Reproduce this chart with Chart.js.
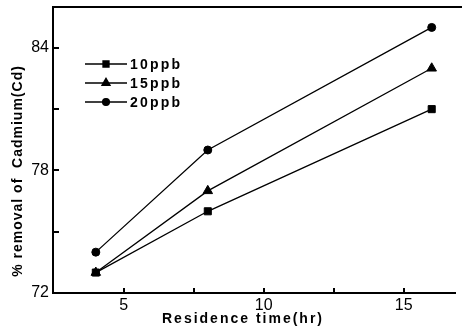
<!DOCTYPE html>
<html>
<head>
<meta charset="utf-8">
<script src="https://cdn.jsdelivr.net/npm/chart.js@4.4.1/dist/chart.umd.min.js"></script>
<style>
  html, body { margin: 0; padding: 0; background: #fff; overflow: hidden; }
  canvas { display: block; }
</style>
</head>
<body>
<canvas id="chart" width="462" height="326"></canvas>
<script>
// Residence time (hr)
const times = [4, 8, 16];
// % removal of Cd at each initial concentration
const removal10 = [73, 76, 81];
const removal15 = [73, 77, 83];
const removal20 = [74, 79, 85];
const seriesNames = ['10ppb', '15ppb', '20ppb'];
const xTicks = [5, 7.5, 10, 12.5, 15];
const xTickLabels = [5, 10, 15];
const yTicks = [72, 75, 78, 81, 84];
const yTickLabels = [72, 78, 84];

const xTitle = 'Residence time(hr)';
const yTitle = '% removal of  Cadmium(Cd)';

Chart.defaults.font.family = '"Liberation Sans", Arial, sans-serif';
Chart.defaults.color = '#000';

function toPoints(ys) {
    return times.map((t, i) => ({ x: t, y: ys[i] }));
}

const styles = [
    { pointStyle: 'rect', radius: 5 },
    { pointStyle: 'triangle', radius: 5.5 },
    { pointStyle: 'circle', radius: 4 }
];

const datasets = [removal10, removal15, removal20].map((vals, i) => ({
    label: seriesNames[i],
    data: toPoints(vals),
    borderColor: '#000',
    backgroundColor: '#000',
    borderWidth: 1.3,
    pointStyle: styles[i].pointStyle,
    pointRadius: styles[i].radius,
    pointBorderWidth: 1,
    pointBackgroundColor: '#000',
    tension: 0
}));

// inner tick marks, top frame line, axis titles and the legend box
const extras = {
    id: 'extras',
    afterDraw(chart) {
        const ctx = chart.ctx;
        const area = chart.chartArea;
        const xs = chart.scales.x;
        const ys = chart.scales.y;
        ctx.save();
        ctx.strokeStyle = '#000';
        ctx.lineWidth = 2;
        ctx.beginPath();
        ctx.moveTo(area.left - 1, area.top);
        ctx.lineTo(chart.width, area.top);
        xs.ticks.forEach(t => {
            const px = Math.round(xs.getPixelForValue(t.value));
            ctx.moveTo(px, area.bottom);
            ctx.lineTo(px, area.bottom - 5);
        });
        ys.ticks.forEach(t => {
            const py = Math.round(ys.getPixelForValue(t.value));
            ctx.moveTo(area.left, py);
            ctx.lineTo(area.left + 6, py);
        });
        ctx.stroke();

        ctx.fillStyle = '#000';
        ctx.font = 'bold 14px "Liberation Sans", Arial, sans-serif';
        ctx.textBaseline = 'middle';
        ctx.textAlign = 'center';
        ctx.letterSpacing = '2px';
        ctx.fillText(xTitle, 243, 319);

        ctx.save();
        ctx.translate(18, 171);
        ctx.rotate(-Math.PI / 2);
        ctx.letterSpacing = '1px';
        ctx.fillText(yTitle, 0, 0);
        ctx.restore();

        // legend
        ctx.font = 'bold 14px "Liberation Sans", Arial, sans-serif';
        ctx.textAlign = 'left';
        ctx.letterSpacing = '2.2px';
        const rowY = [64, 83, 102];
        chart.data.datasets.forEach((ds, i) => {
            const y = rowY[i];
            ctx.lineWidth = 1.3;
            ctx.beginPath();
            ctx.moveTo(85, y);
            ctx.lineTo(127, y);
            ctx.stroke();
            Chart.helpers.drawPoint(ctx, {
                pointStyle: ds.pointStyle,
                radius: ds.pointRadius * 0.85,
                rotation: 0,
                borderWidth: 1
            }, 106, y);
            ctx.fillText(ds.label, 130, y + 1);
        });
        ctx.restore();
    }
};

function noPad(scale) {
    scale.paddingTop = 0;
    scale.paddingBottom = 0;
    scale.paddingLeft = 0;
    scale.paddingRight = 0;
}

new Chart(document.getElementById('chart'), {
    type: 'line',
    data: { datasets },
    options: {
        responsive: false,
        animation: false,
        layout: { padding: { top: 7, right: 0, left: 0, bottom: 0 } },
        plugins: {
            legend: { display: false },
            tooltip: { enabled: false }
        },
        scales: {
            x: {
                type: 'linear',
                min: 2.47,
                max: 16.85,
                afterBuildTicks(scale) { scale.ticks = xTicks.map(v => ({ value: v })); },
                afterFit(scale) { scale.height = 33; noPad(scale); },
                border: { color: '#000', width: 2 },
                grid: { display: false, drawTicks: false },
                ticks: {
                    padding: 3,
                    maxRotation: 0,
                    autoSkip: false,
                    font: { size: 16 },
                    callback: v => xTickLabels.includes(v) ? String(v) : ''
                }
            },
            y: {
                min: 72,
                max: 86,
                afterBuildTicks(scale) { scale.ticks = yTicks.map(v => ({ value: v })); },
                afterFit(scale) { scale.width = 53; noPad(scale); },
                border: { color: '#000', width: 2 },
                grid: { display: false, drawTicks: false },
                ticks: {
                    padding: 4,
                    autoSkip: false,
                    font: { size: 16 },
                    callback: v => yTickLabels.includes(v) ? String(v) : ''
                }
            }
        }
    },
    plugins: [extras]
});
</script>
</body>
</html>
